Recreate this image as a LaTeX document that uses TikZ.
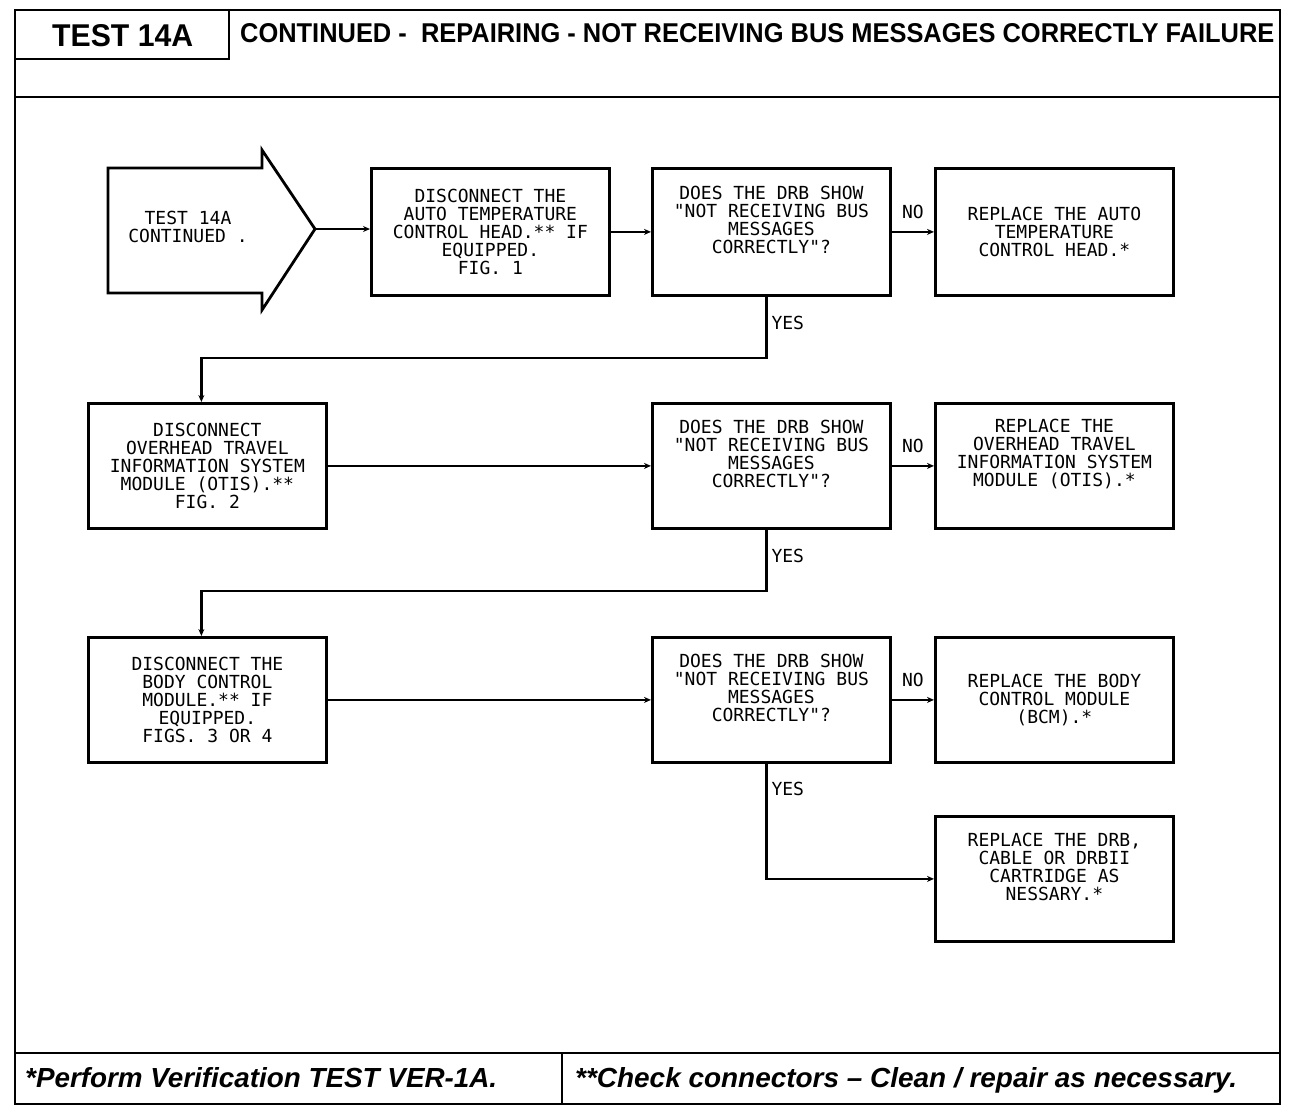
\documentclass[tikz,border=0pt]{standalone}
\usepackage{fontspec}
\setmainfont{Liberation Sans}
\newfontfamily\boxfont{DejaVu Sans Mono}
\usetikzlibrary{arrows.meta}
\begin{document}
\begin{tikzpicture}[x=1pt,y=-1pt,
  frame/.style={line width=2.8pt},
  stepbox/.style={draw, line width=2.8pt, minimum width=238pt, minimum height=125pt, inner sep=0pt, anchor=north west},
  boxtext/.style={font=\boxfont\fontsize{18}{18}\selectfont, align=center, inner sep=0pt},
  lab/.style={font=\boxfont\fontsize{18}{18}\selectfont, inner sep=0pt},
  conn/.style={line width=2.2pt, -{Stealth[length=7pt,width=6pt]}}
]
\useasboundingbox (0,0) rectangle (1296,1112);
% outer frame
\draw[frame] (15,10) rectangle (1280,1104);
\draw[frame] (15,97) -- (1280,97);
\draw[frame] (229,10) -- (229,59) -- (15,59);
\draw[frame] (15,1053) -- (1280,1053);
\draw[frame] (562,1053) -- (562,1104);
% header texts
\node[anchor=base west, inner sep=0pt] (ttest) at (52,46) {\resizebox{141pt}{22pt}{\bfseries TEST 14A}};
\node[anchor=base west, inner sep=0pt] (ttitle) at (240,42) {\resizebox{1034pt}{19pt}{\bfseries CONTINUED -\ \ REPAIRING - NOT RECEIVING BUS MESSAGES CORRECTLY FAILURE}};
% footer texts
\node[anchor=base west, inner sep=0pt] (tfoot1) at (25,1087) {\resizebox{472pt}{20pt}{\bfseries\itshape *Perform Verification TEST VER-1A.}};
\node[anchor=base west, inner sep=0pt] (tfoot2) at (575,1087) {\resizebox{662pt}{20pt}{\bfseries\itshape **Check connectors – Clean / repair as necessary.}};
% start arrow
\draw[line width=2.8pt, line join=miter] (108,168) -- (262,168) -- (262,150) -- (315,229) -- (262,310) -- (262,293) -- (108,293) -- cycle;
\coordinate (tip) at (315,229);
\node[boxtext] (tstart) at (188,227) {TEST 14A\\CONTINUED .};
% row 1
\node[stepbox, minimum height=127pt] (b2) at (370,167) {};
\node[boxtext] (tb2) at (b2.center) {DISCONNECT THE\\AUTO TEMPERATURE\\CONTROL HEAD.** IF\\EQUIPPED.\\FIG. 1};
\node[stepbox, minimum height=127pt] (q1) at (651,167) {};
\node[boxtext, yshift=11.5pt] (tq1) at (q1.center) {DOES THE DRB SHOW\\"NOT RECEIVING BUS\\MESSAGES\\CORRECTLY"?};
\node[stepbox, minimum height=127pt] (r1) at (934,167) {};
\node[boxtext] (tr1) at (r1.center) {REPLACE THE AUTO\\TEMPERATURE\\CONTROL HEAD.*};
% row 2
\node[stepbox] (b5) at (87,402) {};
\node[boxtext] (tb5) at (b5.center) {DISCONNECT\\OVERHEAD TRAVEL\\INFORMATION SYSTEM\\MODULE (OTIS).**\\FIG. 2};
\node[stepbox] (q2) at (651,402) {};
\node[boxtext, yshift=11.5pt] (tq2) at (q2.center) {DOES THE DRB SHOW\\"NOT RECEIVING BUS\\MESSAGES\\CORRECTLY"?};
\node[stepbox] (r2) at (934,402) {};
\node[boxtext, yshift=11.5pt] (tr2) at (r2.center) {REPLACE THE\\OVERHEAD TRAVEL\\INFORMATION SYSTEM\\MODULE (OTIS).*};
% row 3
\node[stepbox] (b6) at (87,636) {};
\node[boxtext] (tb6) at (b6.center) {DISCONNECT THE\\BODY CONTROL\\MODULE.** IF\\EQUIPPED.\\FIGS. 3 OR 4};
\node[stepbox] (q3) at (651,636) {};
\node[boxtext, yshift=11.5pt] (tq3) at (q3.center) {DOES THE DRB SHOW\\"NOT RECEIVING BUS\\MESSAGES\\CORRECTLY"?};
\node[stepbox] (r3) at (934,636) {};
\node[boxtext] (tr3) at (r3.center) {REPLACE THE BODY\\CONTROL MODULE\\(BCM).*};
\node[stepbox] (r4) at (934,815) {};
\node[boxtext, yshift=11.5pt] (tr4) at (r4.center) {REPLACE THE DRB,\\CABLE OR DRBII\\CARTRIDGE AS\\NESSARY.*};
% connectors
\draw[conn] (tip) -- (tip -| b2.west);
\draw[conn] (b2.east) -- (q1.west);
\draw[conn] (q1.east) -- node[lab, above=12pt] (no1) {NO} (r1.west);
\draw[conn] ([xshift=-5pt]q1.south) -- node[lab, right=4pt, pos=0.43] (yes1) {YES} ++(0,61) -| ([xshift=-6pt]b5.north);
\draw[conn] (b5.east) -- (q2.west);
\draw[conn] (q2.east) -- node[lab, above=12pt] (no2) {NO} (r2.west);
\draw[conn] ([xshift=-5pt]q2.south) -- node[lab, right=4pt, pos=0.43] (yes2) {YES} ++(0,61) -| ([xshift=-6pt]b6.north);
\draw[conn] (b6.east) -- (q3.west);
\draw[conn] (q3.east) -- node[lab, above=12pt] (no3) {NO} (r3.west);
\draw[conn] ([xshift=-5pt]q3.south) -- node[lab, right=4pt, pos=0.22] (yes3) {YES} ([xshift=-5pt]q3.south |- r4.west) -- (r4.west);
\end{tikzpicture}
\end{document}
